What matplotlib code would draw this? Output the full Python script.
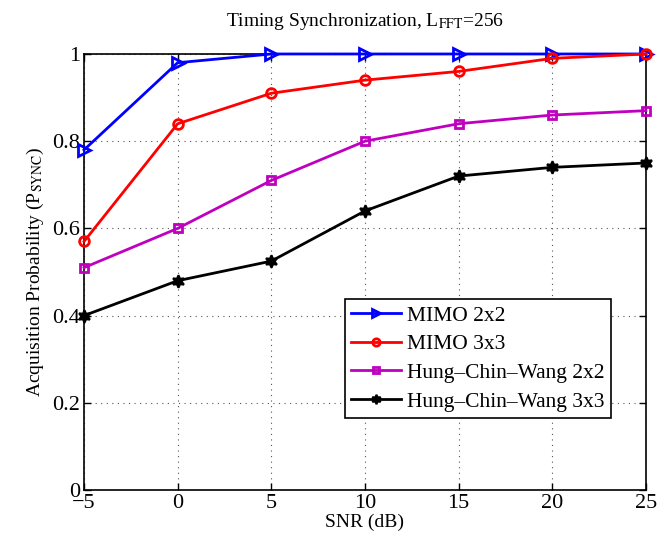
import matplotlib
matplotlib.use("Agg")
import matplotlib.pyplot as plt

plt.rcParams['font.family'] = ['Liberation Serif', 'DejaVu Serif']
plt.rcParams['mathtext.fontset'] = 'stix'

snr = [-5, 0, 5, 10, 15, 20, 25]
mimo_2x2 = [0.78, 0.98, 1.0, 1.0, 1.0, 1.0, 1.0]
mimo_3x3 = [0.57, 0.84, 0.91, 0.94, 0.96, 0.99, 1.0]
hcw_2x2 = [0.51, 0.60, 0.71, 0.80, 0.84, 0.86, 0.87]
hcw_3x3 = [0.40, 0.48, 0.525, 0.64, 0.72, 0.74, 0.75]

fig = plt.figure(figsize=(6.71, 5.42), dpi=100)
ax = fig.add_axes([0.1252, 0.0959, 0.8375, 0.8045])

ax.plot(snr, mimo_2x2, color='#0000ff', lw=2, marker='>', ms=8, mfc='none', mew=2, label='MIMO 2x2', clip_on=False, zorder=4)
ax.plot(snr, mimo_3x3, color='#ff0000', lw=2, marker='o', ms=7, mfc='none', mew=2, label='MIMO 3x3', clip_on=False, zorder=5)
ax.plot(snr, hcw_2x2, color='#bf00bf', lw=2, marker='s', ms=6, mfc='none', mew=2, label='Hung\u2013Chin\u2013Wang 2x2', clip_on=False, zorder=4)
ax.plot(snr, hcw_3x3, color='black', lw=2, marker=(6, 1, 0), ms=9, mfc='black', mew=1.5, label='Hung\u2013Chin\u2013Wang 3x3', clip_on=False, zorder=4)

ax.set_xlim(-5, 25)
ax.set_ylim(0, 1)
ax.set_xticks(snr)
ax.set_yticks([0, 0.2, 0.4, 0.6, 0.8, 1.0])
ax.set_yticklabels(['0', '0.2', '0.4', '0.6', '0.8', '1'])
ax.tick_params(direction='in', top=True, right=True, labelsize=16, length=5, width=1, pad=3)
ax.grid(True, linestyle=(0, (1, 4)), color='#555555', linewidth=0.8)
for s in ax.spines.values():
    s.set_linewidth(1.2)

ax.set_xlabel('SNR (dB)', fontsize=14, labelpad=0)
ax.set_ylabel(r'Acquisition Probability (P$_{\mathrm{SYNC}}$)', fontsize=14, labelpad=4)
ax.set_title(r'Timing Synchronization, L$_{\mathrm{FFT}}$=256', fontsize=14, pad=20)

leg = ax.legend(loc='upper left', bbox_to_anchor=(0.464, 0.438), borderaxespad=0,
                fontsize=15.5, fancybox=False, framealpha=1, edgecolor='black',
                handlelength=2.3, handletextpad=0.3, labelspacing=0.4, borderpad=0.3,
                markerscale=0.75)
leg.get_frame().set_linewidth(1.2)
leg.set_zorder(6)

fig.savefig('out.png', dpi=100)
